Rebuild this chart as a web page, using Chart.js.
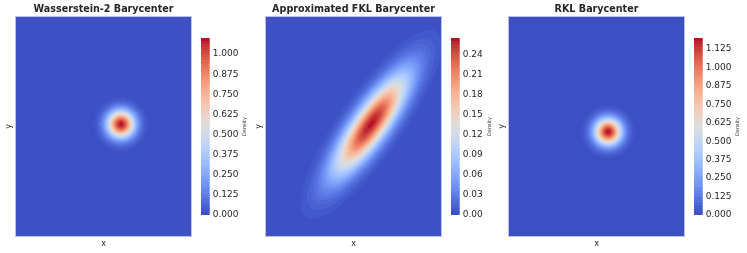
<!DOCTYPE html>
<html>
<head>
<meta charset="utf-8">
<script src="https://cdn.jsdelivr.net/npm/chart.js@4.4.1/dist/chart.umd.min.js"></script>
<style>
  html, body { margin: 0; padding: 0; background: #fff; overflow: hidden; }
  #fig { position: relative; width: 747px; height: 253px; }
  #fig canvas { position: absolute; top: 0; }
</style>
</head>
<body>
<div id="fig"></div>
<script>
// panel titles and the fitted density of each barycenter (data units)
const TITLES = ['Wasserstein-2 Barycenter', 'Approximated FKL Barycenter', 'RKL Barycenter'];
const MEAN_X = [0.69, 0.69, 0.46];
const MEAN_Y = [0.09, 0.09, -0.21];
const SIGMA_MAJOR = [0.373, 1.60, 0.365];
const SIGMA_MINOR = [0.373, 0.45, 0.365];
const ANGLE_DEG = [0, 55, 0];
const PEAK = [1.09, 0.262, 1.19];
// contour levels and colorbar ticks
const LEVEL_STEP = [0.02, 0.005, 0.02];
const LEVEL_TOP = [1.10, 0.265, 1.20];
const CBAR_TICK_STEP = [0.125, 0.03, 0.125];
const CBAR_DECIMALS = [3, 2, 3];
const X_RANGE = [-3.5, 3.5];
const Y_RANGE = [-4.4, 4.4];

// layout in px
const PLOT_LEFT = [15, 265, 508];
const PLOT_RIGHT = [192, 442, 685];
const PLOT_TOP = 16, PLOT_BOTTOM = 237;
const CBAR_LEFT = [201, 451, 694];
const CBAR_W = 8.7;
const CBAR_TOP = 38, CBAR_BOTTOM = 215;
const H = 253;
const FONT = '"DejaVu Sans", "Liberation Sans", sans-serif';
const TEXT = '#262626';

// matplotlib coolwarm
const COOLWARM = [
  [0.2298057, 0.298717966, 0.753683153], [0.26623388, 0.353094838, 0.801466763],
  [0.30386891, 0.406535296, 0.84495867], [0.342804478, 0.458757618, 0.883725899],
  [0.38301334, 0.50941904, 0.917387822], [0.424369608, 0.558148092, 0.945619588],
  [0.46666708, 0.604562568, 0.968154911], [0.509635204, 0.648280772, 0.98478814],
  [0.552953156, 0.688929332, 0.995375608], [0.596262162, 0.726149107, 0.999836203],
  [0.639176211, 0.759599947, 0.998151185], [0.681291281, 0.788964712, 0.990363227],
  [0.722193294, 0.813952739, 0.976574709], [0.761464949, 0.834302879, 0.956945269],
  [0.798691636, 0.849786142, 0.931688648], [0.833466556, 0.860207984, 0.901068838],
  [0.865395197, 0.86541021, 0.865395561], [0.897787179, 0.848937047, 0.820880546],
  [0.924127593, 0.827384882, 0.774508472], [0.944468518, 0.800927443, 0.726736146],
  [0.958852946, 0.769767752, 0.678007945], [0.96732803, 0.734132809, 0.628751763],
  [0.969954137, 0.694266682, 0.579375448], [0.966811177, 0.650421156, 0.530263762],
  [0.958003065, 0.602842431, 0.481775914], [0.943660866, 0.551750968, 0.434243684],
  [0.923944917, 0.49730856, 0.387970225], [0.89904617, 0.439559467, 0.343229596],
  [0.869186849, 0.378313092, 0.300267182], [0.834620542, 0.312874446, 0.259301199],
  [0.795631745, 0.24128379, 0.220525627], [0.752534934, 0.157246067, 0.184115123],
  [0.705673158, 0.01555616, 0.150232812]
];
function coolwarm(t) {
  t = Math.max(0, Math.min(1, t)) * (COOLWARM.length - 1);
  const i = Math.min(Math.floor(t), COOLWARM.length - 2), f = t - i;
  const a = COOLWARM[i], b = COOLWARM[i + 1];
  return [0, 1, 2].map(k => Math.round(255 * (a[k] + (b[k] - a[k]) * f)));
}

function bandColors(p) {
  const n = Math.round(LEVEL_TOP[p] / LEVEL_STEP[p]);
  const out = [];
  for (let k = 0; k < n; k++) out.push(coolwarm((k + 0.5) / n));
  return out;
}

function density(p, x, y) {
  const th = ANGLE_DEG[p] * Math.PI / 180;
  const dx = x - MEAN_X[p], dy = y - MEAN_Y[p];
  const u = dx * Math.cos(th) + dy * Math.sin(th);
  const v = -dx * Math.sin(th) + dy * Math.cos(th);
  const d2 = (u / SIGMA_MAJOR[p]) ** 2 + (v / SIGMA_MINOR[p]) ** 2;
  return PEAK[p] * Math.exp(-0.5 * d2);
}

// filled contours, every pixel looked up through the chart scales
const densityLayer = {
  id: 'densityLayer',
  beforeDatasetsDraw(chart, args, opts) {
    const p = opts.panel;
    const { ctx, chartArea: a, scales: { x, y } } = chart;
    const colors = bandColors(p);
    const x0 = Math.round(a.left), y0 = Math.round(a.top);
    const w = Math.round(a.right) - x0, h = Math.round(a.bottom) - y0;
    const img = ctx.createImageData(w, h);
    for (let j = 0; j < h; j++) {
      const yv = y.getValueForPixel(y0 + j + 0.5);
      for (let i = 0; i < w; i++) {
        const xv = x.getValueForPixel(x0 + i + 0.5);
        const d = density(p, xv, yv);
        const k = Math.min(Math.floor(d / LEVEL_STEP[p]), colors.length - 1);
        const c = colors[k], o = (j * w + i) * 4;
        img.data[o] = c[0]; img.data[o + 1] = c[1]; img.data[o + 2] = c[2]; img.data[o + 3] = 255;
      }
    }
    ctx.putImageData(img, x0, y0);
    ctx.save();
    ctx.strokeStyle = 'rgba(230,232,245,0.75)';
    ctx.lineWidth = 1;
    ctx.strokeRect(x0 + 0.5, y0 + 0.5, w - 1, h - 1);
    ctx.restore();
  }
};

const cbarLabel = {
  id: 'cbarLabel',
  afterDraw(chart) {
    const { ctx, chartArea: a, scales: { y } } = chart;
    ctx.save();
    ctx.font = '9px ' + FONT;
    let maxW = 0;
    y.ticks.forEach(t => { maxW = Math.max(maxW, ctx.measureText(t.label).width); });
    const cx = a.right + 3 + maxW + 6.5;
    ctx.translate(cx, (a.top + a.bottom) / 2);
    ctx.rotate(-Math.PI / 2);
    ctx.font = '5px ' + FONT;
    ctx.fillStyle = TEXT;
    ctx.textAlign = 'center';
    ctx.textBaseline = 'middle';
    ctx.fillText('Density', 0, 0);
    ctx.restore();
  }
};

const fig = document.getElementById('fig');
function makeCanvas(left, width) {
  const c = document.createElement('canvas');
  c.width = width; c.height = H;
  c.style.left = left + 'px';
  c.style.width = width + 'px';
  c.style.height = H + 'px';
  fig.appendChild(c);
  return c;
}

TITLES.forEach((title, p) => {
  const left = PLOT_LEFT[p] - 15;
  const width = PLOT_RIGHT[p] - left + 1;
  new Chart(makeCanvas(left, width), {
    type: 'scatter',
    data: { datasets: [{ data: [] }] },
    plugins: [densityLayer],
    options: {
      responsive: false,
      animation: false,
      layout: { padding: { left: 0, right: 1, top: 0, bottom: 0 } },
      plugins: {
        legend: { display: false },
        tooltip: { enabled: false },
        densityLayer: { panel: p },
        title: {
          display: true, text: title, fullSize: false, color: TEXT,
          font: { family: FONT, size: 9.6, weight: 'bold', lineHeight: 1.25 },
          padding: { top: 3, bottom: 1 }
        }
      },
      scales: {
        x: {
          type: 'linear', min: X_RANGE[0], max: X_RANGE[1],
          grid: { display: false, drawTicks: false }, border: { display: false },
          ticks: { display: false },
          title: { display: true, text: 'x', color: TEXT, font: { family: FONT, size: 8 }, padding: { top: 0, bottom: 4 } },
          afterFit(s) { s.height = H - PLOT_BOTTOM; }
        },
        y: {
          type: 'linear', min: Y_RANGE[0], max: Y_RANGE[1],
          grid: { display: false, drawTicks: false }, border: { display: false },
          ticks: { display: false },
          title: { display: true, text: 'y', color: TEXT, font: { family: FONT, size: 8 }, padding: { top: 4, bottom: 0 } },
          afterFit(s) { s.width = 15; }
        }
      }
    }
  });

  // colorbar: one stacked bar segment per contour band
  const cw = 54;
  const colors = bandColors(p);
  const datasets = colors.map(c => ({
    data: [LEVEL_STEP[p]],
    backgroundColor: 'rgb(' + c.join(',') + ')',
    borderWidth: 0,
    barPercentage: 1,
    categoryPercentage: 1
  }));
  new Chart(makeCanvas(CBAR_LEFT[p], cw), {
    type: 'bar',
    data: { labels: [''], datasets },
    plugins: [cbarLabel],
    options: {
      responsive: false,
      animation: false,
      layout: { padding: { top: CBAR_TOP, bottom: H - CBAR_BOTTOM, left: 0, right: 0 } },
      plugins: { legend: { display: false }, tooltip: { enabled: false } },
      scales: {
        x: { display: false, stacked: true },
        y: {
          stacked: true, position: 'right', min: 0, max: LEVEL_TOP[p],
          grid: { display: false, drawTicks: false }, border: { display: false },
          ticks: {
            stepSize: CBAR_TICK_STEP[p], includeBounds: false, autoSkip: false, padding: 3,
            color: TEXT, font: { family: FONT, size: 9 },
            callback: v => v.toFixed(CBAR_DECIMALS[p])
          },
          afterFit(s) { s.width = cw - CBAR_W; }
        }
      }
    }
  });
});
</script>
</body>
</html>
